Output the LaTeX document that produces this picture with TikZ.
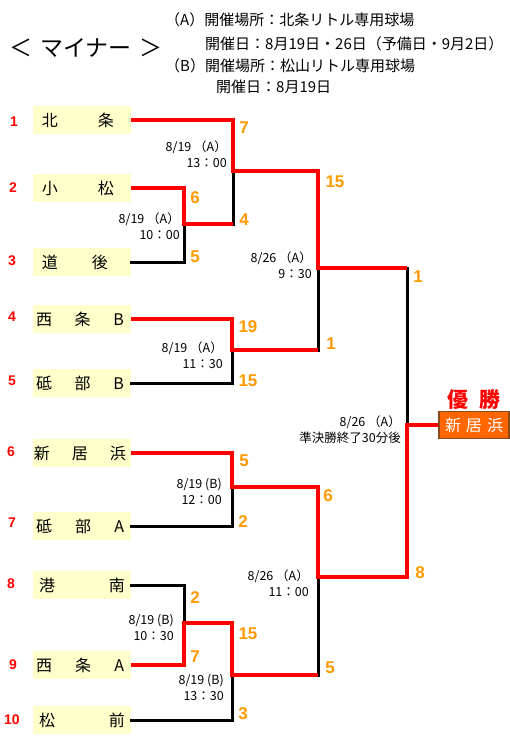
\documentclass[tikz,border=0pt]{standalone}
\usepackage{fontspec}
\setmainfont{Noto Sans CJK JP}
\newfontfamily\numfont{Liberation Sans}
\definecolor{boxyellow}{HTML}{FFFFCC}
\definecolor{winred}{HTML}{FF0000}
\definecolor{scoreorange}{HTML}{FF9900}
\definecolor{champorange}{HTML}{FF6600}
\definecolor{champbrown}{HTML}{8B4A1C}
% offset from box edge, spread width, characters
\newcommand{\tname}[3]{\makebox[98pt][l]{\hspace{#1pt}\makebox[#2pt]{#3}}}

\begin{document}
\begin{tikzpicture}[x=1pt,y=-1pt]
\tikzstyle{team}=[fill=boxyellow,minimum width=98pt,minimum height=28pt,inner sep=0pt,font=\fontsize{16}{18}\selectfont]
\tikzstyle{seed}=[text=winred,font=\numfont\bfseries\fontsize{14}{16}\selectfont]
\tikzstyle{score}=[text=scoreorange,font=\numfont\bfseries\fontsize{17}{19}\selectfont]
\tikzstyle{info}=[anchor=east,align=right,inner sep=0pt,font=\fontsize{12.5}{16}\selectfont]
\tikzstyle{head}=[anchor=west,inner sep=0pt,font=\fontsize{15}{17}\selectfont]
\tikzstyle{lose}=[draw=black,line width=3pt,line cap=rect]
\tikzstyle{win}=[draw=winred,line width=4pt]
\tikzstyle{champ}=[fill=champorange,draw=champbrown,line width=1.2pt,text=white,minimum width=70pt,minimum height=27pt,inner sep=0pt,font=\fontsize{16}{18}\selectfont]
\useasboundingbox (0,0) rectangle (510,737);
    % header
    \node[head,font=\fontsize{23}{25}\selectfont] (title) at (9,48) {＜\hspace{8pt}マイナー\hspace{8pt}＞};
    \node[head] (ha) at (165,20) {（A）開催場所：北条リトル専用球場};
    \node[head] (hadate) at (205,44) {開催日：8月19日・26日（予備日・9月2日）};
    \node[head] (hb) at (165,66) {（B）開催場所：松山リトル専用球場};
    \node[head] (hbdate) at (216,87) {開催日：8月19日};
    % teams
    \node[team] (t1) at (82,120) {\tname{9}{72}{北\hfill 条}};
    \node[team] (t2) at (82,188) {\tname{9}{72}{小\hfill 松}};
    \node[team] (t3) at (82,262) {\tname{9}{66}{道\hfill 後}};
    \node[team] (t4) at (82,319) {\tname{3}{88}{西\hfill 条\hfill B}};
    \node[team] (t5) at (82,383) {\tname{3}{88}{砥\hfill 部\hfill B}};
    \node[team] (t6) at (82,453) {\tname{1}{92}{新\hfill 居\hfill 浜}};
    \node[team] (t7) at (82,526) {\tname{3}{88}{砥\hfill 部\hfill A}};
    \node[team] (t8) at (82,585) {\tname{6}{86}{港\hfill 南}};
    \node[team] (t9) at (82,665) {\tname{3}{88}{西\hfill 条\hfill A}};
    \node[team] (t10) at (82,720) {\tname{6}{86}{松\hfill 前}};
    % seeds
    \node[seed] (n1) at (14,122) {1};
    \node[seed] (n2) at (13,188) {2};
    \node[seed] (n3) at (12,261) {3};
    \node[seed] (n4) at (12,317) {4};
    \node[seed] (n5) at (12,381) {5};
    \node[seed] (n6) at (11,452) {6};
    \node[seed] (n7) at (12,523) {7};
    \node[seed] (n8) at (11,584) {8};
    \node[seed] (n9) at (13,665) {9};
    \node[seed] (n10) at (12,720) {10};
    % joints
    \coordinate (m1) at (184,224);
    \coordinate (m2) at (233,171);
    \coordinate (m3) at (232,350);
    \coordinate (m4) at (232,487);
    \coordinate (m5) at (184,623);
    \coordinate (m6) at (232,675);
    \coordinate (s1) at (318,268);
    \coordinate (s2) at (318,577);
    \coordinate (f) at (407,425);
    \node[champ] (champ) at (474,425) {\makebox[58pt]{新\hfill 居\hfill 浜}};
    \node[text=winred,inner sep=0pt,font=\bfseries\fontsize{21}{23}\selectfont] (yusho) at (474,400) {\makebox[53pt]{優\hfill 勝}};
    % losing lines
    \draw[lose] (t3.east) -| (m1);
    \draw[lose] (m1 -| m2) -- (m2);
    \draw[lose] (t5.east) -| (m3);
    \draw[lose] (m3 -| s1) -- (s1);
    \draw[lose] (s1 -| f) -- (f);
    \draw[lose] (t7.east) -| (m4);
    \draw[lose] (t8.east) -| (m5);
    \draw[lose] (t10.east) -| (m6);
    \draw[lose] (m6 -| s2) -- (s2);
    % winning lines
    \draw[win] (t1.east) -| (m2) -| (s1) -- (s1 -| f);
    \draw[win] (t2.east) -| (m1) -- (m1 -| m2);
    \draw[win] (t4.east) -| (m3) -- (m3 -| s1);
    \draw[win] (t6.east) -| (m4) -| (s2) -| (f) -- (champ.west);
    \draw[win] (t9.east) -| (m5) -| (m6) -- (m6 -| s2);
    % scores
    \node[score] (sc1) at (244,128) {7};
    \node[score] (sc2) at (195,198) {6};
    \node[score] (sc3) at (244,220) {4};
    \node[score] (sc4) at (195,257) {5};
    \node[score] (sc5) at (248,327) {19};
    \node[score] (sc6) at (248,381) {15};
    \node[score] (sc7) at (335,182) {15};
    \node[score] (sc8) at (331,344) {1};
    \node[score] (sc9) at (244,461) {5};
    \node[score] (sc10) at (243,522) {2};
    \node[score] (sc11) at (195,598) {2};
    \node[score] (sc12) at (195,657) {7};
    \node[score] (sc13) at (248,634) {15};
    \node[score] (sc14) at (243,714) {3};
    \node[score] (sc15) at (328,496) {6};
    \node[score] (sc16) at (330,668) {5};
    \node[score] (sc17) at (418,277) {1};
    \node[score] (sc18) at (420,573) {8};
    % match info
    \node[info] (g1) at (227,154) {8/19 （A）\\13：00};
    \node[info] (g2) at (180,226) {8/19 （A）\\10：00};
    \node[info] (g3) at (223,355) {8/19 （A）\\11：30};
    \node[info] (g4) at (222,491) {8/19 (B)\\12：00};
    \node[info] (g5) at (174,627) {8/19 (B)\\10：30};
    \node[info] (g6) at (224,687) {8/19 (B)\\13：30};
    \node[info] (g7) at (312,265) {8/26 （A）\\9：30};
    \node[info] (g8) at (309,583) {8/26 （A）\\11：00};
    \node[info] (g9) at (401,430) {8/26 （A）\\準決勝終了30分後};
\end{tikzpicture}
\end{document}
